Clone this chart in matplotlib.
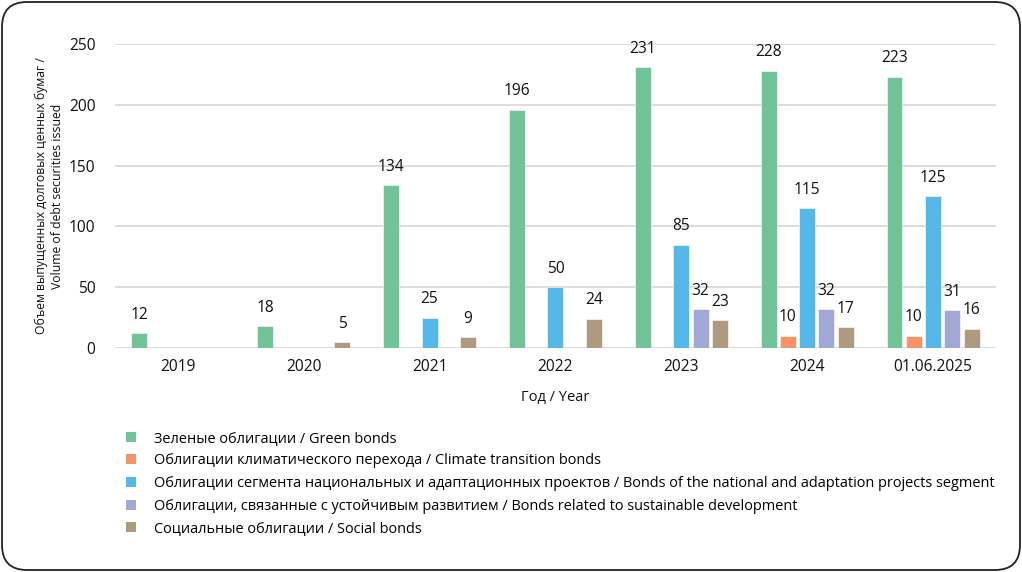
import numpy as np
import matplotlib
matplotlib.use("Agg")
from matplotlib import pyplot as plt
from matplotlib.patches import Patch, FancyBboxPatch

plt.rcParams['font.family'] = ['Open Sans', 'DejaVu Sans']

categories = ['2019', '2020', '2021', '2022', '2023', '2024', '01.06.2025']
series_names = [
    'Зеленые облигации / Green bonds',
    'Облигации климатического перехода / Climate transition bonds',
    'Облигации сегмента национальных и адаптационных проектов / Bonds of the national and adaptation projects segment',
    'Облигации, связанные с устойчивым развитием / Bonds related to sustainable development',
    'Социальные облигации / Social bonds',
]
green = [12, 18, 134, 196, 231, 228, 223]
climate = [np.nan, np.nan, np.nan, np.nan, np.nan, 10, 10]
national = [np.nan, np.nan, 25, 50, 85, 115, 125]
sustainable = [np.nan, np.nan, np.nan, np.nan, 32, 32, 31]
social = [np.nan, 5, 9, 24, 23, 17, 16]
y_ticks = [0, 50, 100, 150, 200, 250]

colors = ['#70C497', '#F59468', '#56B8E8', '#A1A8D5', '#AD9A80']
all_series = [green, climate, national, sustainable, social]

fig = plt.figure(figsize=(10.22, 5.72), dpi=100)
ax = fig.add_axes([0.1125, 0.3916, 0.862, 0.5315])

# rounded frame around the whole picture
frame = FancyBboxPatch((0.02, 0.02), 10.22 - 0.04, 5.72 - 0.04,
                       boxstyle="round,pad=0,rounding_size=0.25",
                       transform=fig.dpi_scale_trans, fill=False,
                       edgecolor='#222222', linewidth=1.3)
fig.patches.append(frame)

x = np.arange(len(categories))
step = 0.153
width = 0.127
for i, (vals, col) in enumerate(zip(all_series, colors)):
    pos = x + (i - 2) * step
    vals = np.array(vals, dtype=float)
    ax.bar(pos, vals, width=width, color=col, edgecolor='white', linewidth=0.4, zorder=3)
    for px, v in zip(pos, vals):
        if np.isnan(v):
            continue
        ax.annotate(f'{int(v)}', (px, v), xytext=(0, 7.5), textcoords='offset points',
                    ha='center', va='bottom', fontsize=11.2, color='#111111')

ax.set_xlim(-0.5, len(categories) - 0.5)
ax.set_ylim(0, 250)
ax.set_yticks(y_ticks)
ax.set_xticks(x)
ax.set_xticklabels(categories)
ax.tick_params(axis='both', length=0, labelsize=11.2, colors='#111111')
ax.tick_params(axis='y', pad=14)
ax.tick_params(axis='x', pad=8)
ax.grid(axis='y', color='#D9D9D9', linewidth=1.3, zorder=0)
for s in ax.spines.values():
    s.set_visible(False)

ax.set_xlabel('Год / Year', fontsize=10.5, labelpad=11, color='#111111')
ax.set_ylabel('Объем выпущенных долговых ценных бумаг /\nVolume of debt securities issued',
              fontsize=8.8, labelpad=3.5, color='#111111', linespacing=1.35)

handles = [Patch(facecolor=c, edgecolor='none') for c in colors]
fig.legend(handles, series_names, loc='upper left', bbox_to_anchor=(0.123, 0.247),
           frameon=False, fontsize=10.45, handlelength=0.7, handleheight=0.7,
           handletextpad=1.25, labelspacing=0.53, borderaxespad=0, borderpad=0)

fig.savefig('out.png', dpi=100)
